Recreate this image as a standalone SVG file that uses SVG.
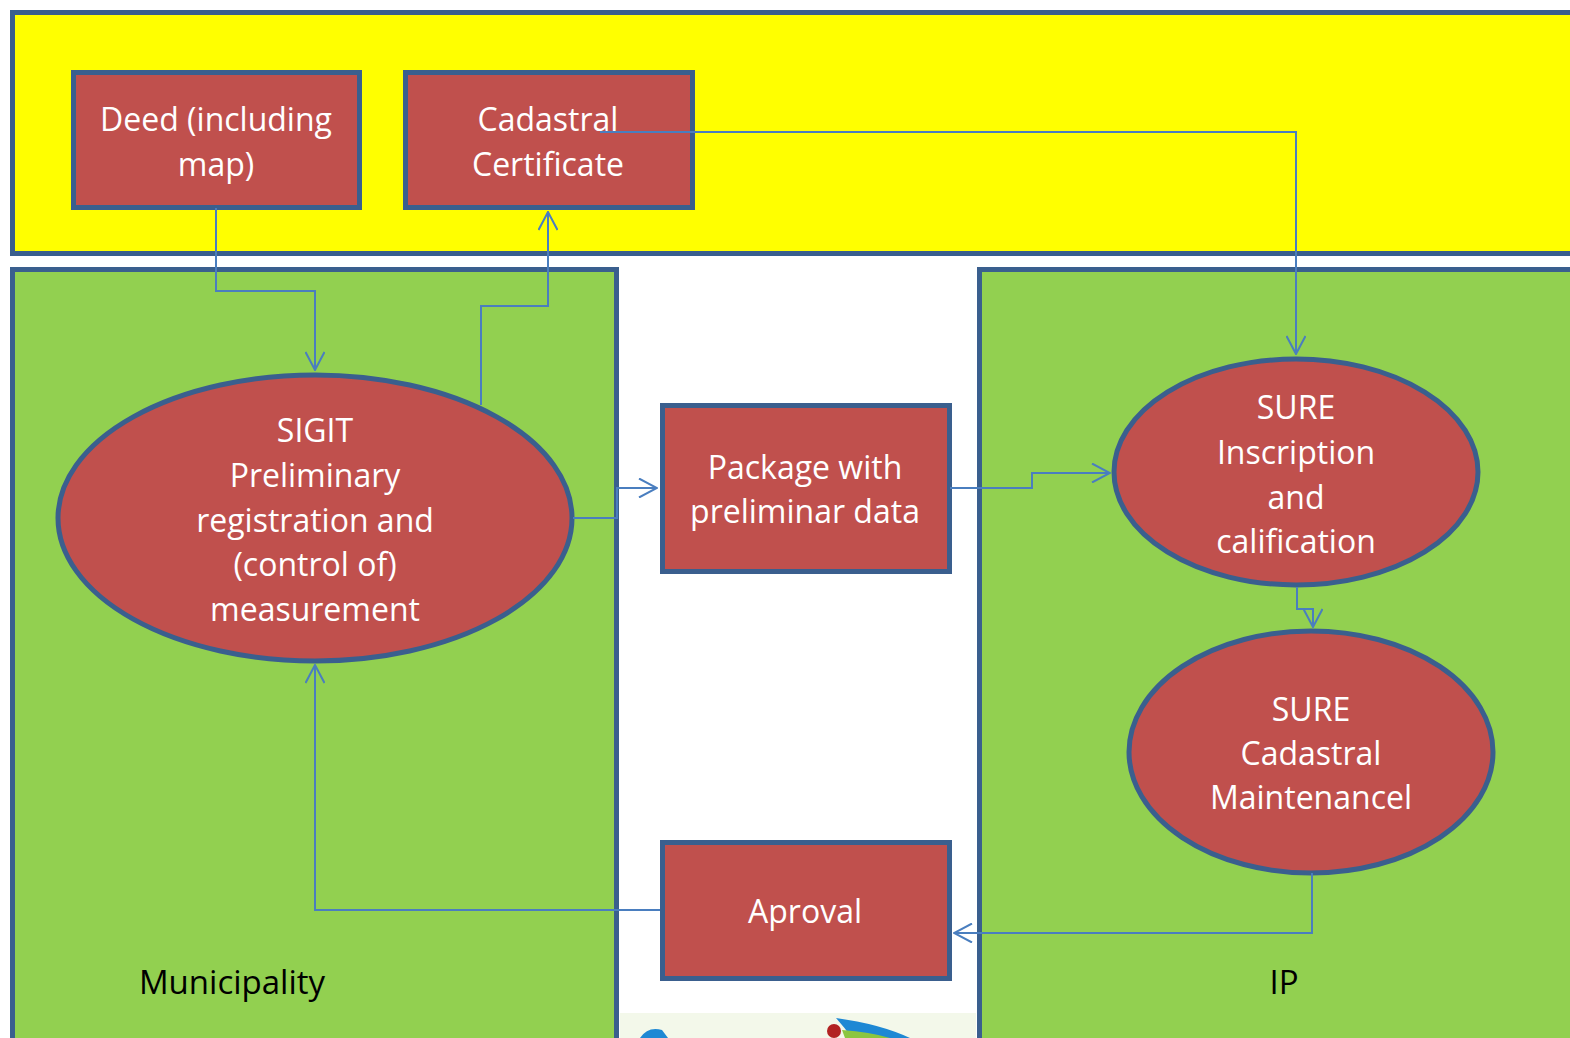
<svg xmlns="http://www.w3.org/2000/svg" width="1570" height="1038" viewBox="0 0 1570 1038">
<defs>
<style>
.frame{stroke:#3a5f8e;stroke-width:5}
.node{fill:#c0504d;stroke:#3a5f8e;stroke-width:5}
.lbl{font-family:"Open Sans","Liberation Sans",sans-serif;font-size:32px;fill:#ffffff;text-anchor:middle}
.area{font-family:"Open Sans","Liberation Sans",sans-serif;font-size:33px;fill:#000000;text-anchor:middle}
.conn{fill:none;stroke:#4a7ebf;stroke-width:2}
</style>
<marker id="arr" viewBox="0 0 20 20" markerWidth="20" markerHeight="20" refX="19" refY="10" orient="auto" markerUnits="userSpaceOnUse">
<path d="M1,0.5 L19,10 L1,19.5" fill="none" stroke="#4a7ebf" stroke-width="2"/>
</marker>
</defs>
<rect width="1570" height="1038" fill="#ffffff"/>
<g id="bg-image">
<rect x="620" y="1013" width="356" height="25" fill="#f3f8ea"/>
<path d="M640,1038 Q648,1026 662,1030 L668,1038 Z" fill="#1e88d4"/>
<path d="M836,1018 Q880,1024 910,1038 L852,1038 Q845,1028 836,1018 Z" fill="#1e88d4"/>
<path d="M842,1030 Q870,1032 890,1038 L845,1038 Z" fill="#8cc63f"/>
<circle cx="834" cy="1031" r="7" fill="#b22222"/>
</g>
<g id="top-area">
<rect class="frame" x="12.5" y="12.5" width="1570" height="241" fill="#ffff00"/>
</g>
<g id="municipality-area">
<rect class="frame" x="12.5" y="269.5" width="604" height="780" fill="#92d050"/>
<text class="area" x="232" y="994">Municipality</text>
</g>
<g id="ip-area">
<rect class="frame" x="979.5" y="269.5" width="600" height="780" fill="#92d050"/>
<text class="area" x="1284" y="994">IP</text>
</g>
<g id="deed">
<rect class="node" x="73.5" y="72.5" width="286" height="135"/>
<text class="lbl" x="216" y="131">Deed (including</text>
<text class="lbl" x="216" y="176">map)</text>
</g>
<g id="cadastral-certificate">
<rect class="node" x="405.5" y="72.5" width="287" height="135"/>
<text class="lbl" x="548" y="131">Cadastral</text>
<text class="lbl" x="548" y="176">Certificate</text>
</g>
<g id="sigit">
<ellipse class="node" cx="315" cy="518" rx="257" ry="143"/>
<text class="lbl" x="315" y="442">SIGIT</text>
<text class="lbl" x="315" y="487">Preliminary</text>
<text class="lbl" x="315" y="532">registration and</text>
<text class="lbl" x="315" y="576">(control of)</text>
<text class="lbl" x="315" y="621">measurement</text>
</g>
<g id="package">
<rect class="node" x="662.5" y="405.5" width="287" height="166"/>
<text class="lbl" x="805" y="479">Package with</text>
<text class="lbl" x="805" y="523">preliminar data</text>
</g>
<g id="sure-inscription">
<ellipse class="node" cx="1296" cy="472" rx="182" ry="113"/>
<text class="lbl" x="1296" y="419">SURE</text>
<text class="lbl" x="1296" y="464">Inscription</text>
<text class="lbl" x="1296" y="509">and</text>
<text class="lbl" x="1296" y="553">calification</text>
</g>
<g id="sure-cadastral">
<ellipse class="node" cx="1311" cy="752" rx="182" ry="121"/>
<text class="lbl" x="1311" y="721">SURE</text>
<text class="lbl" x="1311" y="765">Cadastral</text>
<text class="lbl" x="1311" y="809">Maintenancel</text>
</g>
<g id="aproval">
<rect class="node" x="662.5" y="842.5" width="287" height="136"/>
<text class="lbl" x="805" y="923">Aproval</text>
</g>
<g id="connectors">
<path class="conn" marker-end="url(#arr)" d="M216,208 V291 H315 V370"/>
<path class="conn" marker-end="url(#arr)" d="M481,405 V306 H548 V212"/>
<path class="conn" marker-end="url(#arr)" d="M600,132 H1296 V354"/>
<path class="conn" marker-end="url(#arr)" d="M573,518 H617 V488 H657"/>
<path class="conn" marker-end="url(#arr)" d="M950,488 H1032 V473 H1110"/>
<path class="conn" marker-end="url(#arr)" d="M1297,587 V609 H1313 V627"/>
<path class="conn" marker-end="url(#arr)" d="M1312,873 V933 H954"/>
<path class="conn" marker-end="url(#arr)" d="M660,910 H315 V665"/>
</g>
</svg>
